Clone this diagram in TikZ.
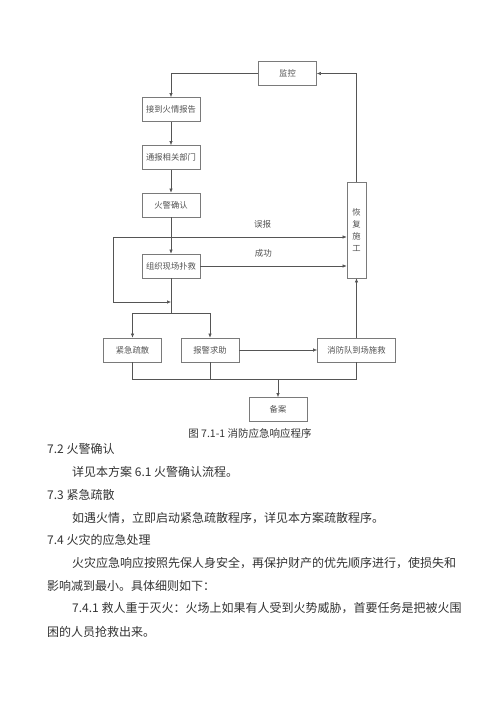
\documentclass[tikz,border=0pt]{standalone}
\usepackage{fontspec}
\setmainfont{Noto Sans CJK SC}
\usetikzlibrary{arrows.meta,positioning}
\definecolor{cline}{HTML}{555555}
\definecolor{cbox}{HTML}{7A7A7A}
\definecolor{ctext}{HTML}{333333}

\begin{document}
\begin{tikzpicture}[x=1pt, y=-1pt,
    stepbox/.style={draw=cbox, line width=0.7pt, minimum width=58pt, minimum height=24pt,
                    inner sep=1pt, font=\fontsize{8.3}{12}\selectfont, text=ctext!85},
    flow/.style={draw=cline, line width=0.6pt, -{Latex[length=4pt,width=3.5pt]}},
    link/.style={draw=cline, line width=0.6pt},
    lbl/.style={font=\fontsize{8.5}{10}\selectfont, text=ctext!85},
    body/.style={font=\fontsize{12}{14}\selectfont, anchor=west, text=ctext, inner sep=0pt},
]
\useasboundingbox (0,0) rectangle (500,707);

% Boxes
\node[stepbox] (watch) at (287.5,73.5) {监控};
\node[stepbox] (report) at (171,109.5) {接到火情报告};
\node[stepbox] (notify) at (171,157.5) {通报相关部门};
\node[stepbox] (confirm) at (171,205) {火警确认};
\node[stepbox] (rescue) at (171,266) {组织现场扑救};
\node[stepbox, minimum width=19pt, minimum height=96pt, align=center] (resume) at (356.5,230) {恢\\复\\施\\工};
\node[stepbox] (evac) at (132.5,350) {紧急疏散};
\node[stepbox] (alarm) at (210,350) {报警求助};
\node[stepbox, minimum width=78pt] (brigade) at (356.5,350) {消防队到场施救};
\node[stepbox] (record) at (278,409.5) {备案};

% Helper points
\coordinate (loopTop) at (113,237);
\coordinate (loopEnd) at (171,302);
\coordinate (split) at (171,313);
\coordinate (merge) at (278,379);

% Main chain
\draw[flow] (watch.west) -| (report.north);
\draw[flow] (report) -- (notify);
\draw[flow] (notify) -- (confirm);
\draw[flow] (confirm) -- (rescue);

% False alarm / success
\draw[flow] (loopTop) -- (loopTop -| resume.west)
    node[lbl, pos=0.64, above=5pt] {误报};
\draw[flow] (loopTop) |- (loopEnd);
\draw[flow] (rescue.east) -- (rescue.east -| resume.west)
    node[lbl, pos=0.43, above=5pt] {成功};

% Split to actions
\draw[link] (rescue.south) -- (split);
\draw[flow] (split) -| (evac.north);
\draw[flow] (split) -| (alarm.north);
\draw[flow] (alarm) -- (brigade);
\draw[flow] (brigade.north) -- (resume.south);
\draw[flow] (resume.north) |- (watch.east);

% Merge to record
\draw[link] (evac.south) |- (merge);
\draw[link] (brigade.south) |- (merge);
\draw[link] (alarm.south) -- (alarm.south |- merge);
\draw[flow] (merge) -- (record.north);

% Caption
\node[font=\fontsize{10.5}{12}\selectfont, text=ctext] (caption) at (250,433) {图 7.1-1 消防应急响应程序};

% Text below
\node[body] (h72) at (47,449) {7.2 火警确认};
\node[body] (p72) at (72,472) {详见本方案 6.1 火警确认流程。};
\node[body] (h73) at (47,495) {7.3 紧急疏散};
\node[body] (p73) at (72,518) {如遇火情，立即启动紧急疏散程序，详见本方案疏散程序。};
\node[body] (h74) at (47,540) {7.4 火灾的应急处理};
\node[body] (p74a) at (72,563) {火灾应急响应按照先保人身安全，再保护财产的优先顺序进行，使损失和};
\node[body] (p74b) at (47,586) {影响减到最小。具体细则如下：};
\node[body] (p741a) at (72,608) {7.4.1 救人重于灭火：火场上如果有人受到火势威胁，首要任务是把被火围};
\node[body] (p741b) at (47,632) {困的人员抢救出来。};
\end{tikzpicture}
\end{document}
